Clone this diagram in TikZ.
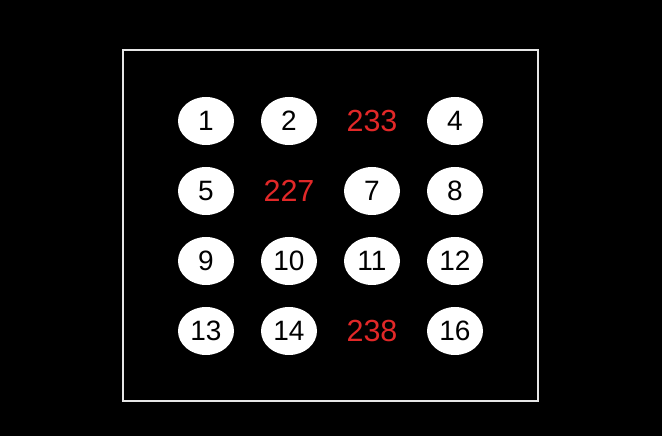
\documentclass[tikz,border=0pt]{standalone}
\usepackage{fontspec}
\setmainfont{Liberation Sans}
\usetikzlibrary{shapes.geometric}
\definecolor{CellRed}{RGB}{226,40,40}
\definecolor{FrameGray}{RGB}{230,230,230}

\tikzset{
  cell/.style={ellipse, fill=white, text=black, inner sep=0pt,
    minimum width=56pt, minimum height=48pt,
    font=\fontsize{28}{28}\selectfont},
  redval/.style={text=CellRed, inner sep=0pt,
    font=\fontsize{30.5}{30.5}\selectfont}
}

\begin{document}
\begin{tikzpicture}[x=1pt,y=1pt]

    %% -- background and frame --------------------------
    \fill[black] (0,0) rectangle (662,436);
    \useasboundingbox (0,0) rectangle (662,436);
    \draw[FrameGray, line width=1.8pt] (123,35) rectangle (538,386);

    %% -- 4x4 grid of cells ------------------------------
    \foreach \lbl [count=\kk from 0] in
      {1,2,233,4,5,227,7,8,9,10,11,12,13,14,238,16}{
      \pgfmathtruncatemacro{\cc}{mod(\kk,4)}
      \pgfmathtruncatemacro{\rr}{div(\kk,4)}
      \ifnum\lbl>100
        \node[redval] (c\kk) at (206+\cc*83, 315-\rr*70) {\lbl};
      \else
        \node[cell] (c\kk) at (206+\cc*83, 315-\rr*70) {\lbl};
      \fi
    }

\end{tikzpicture}
\end{document}
